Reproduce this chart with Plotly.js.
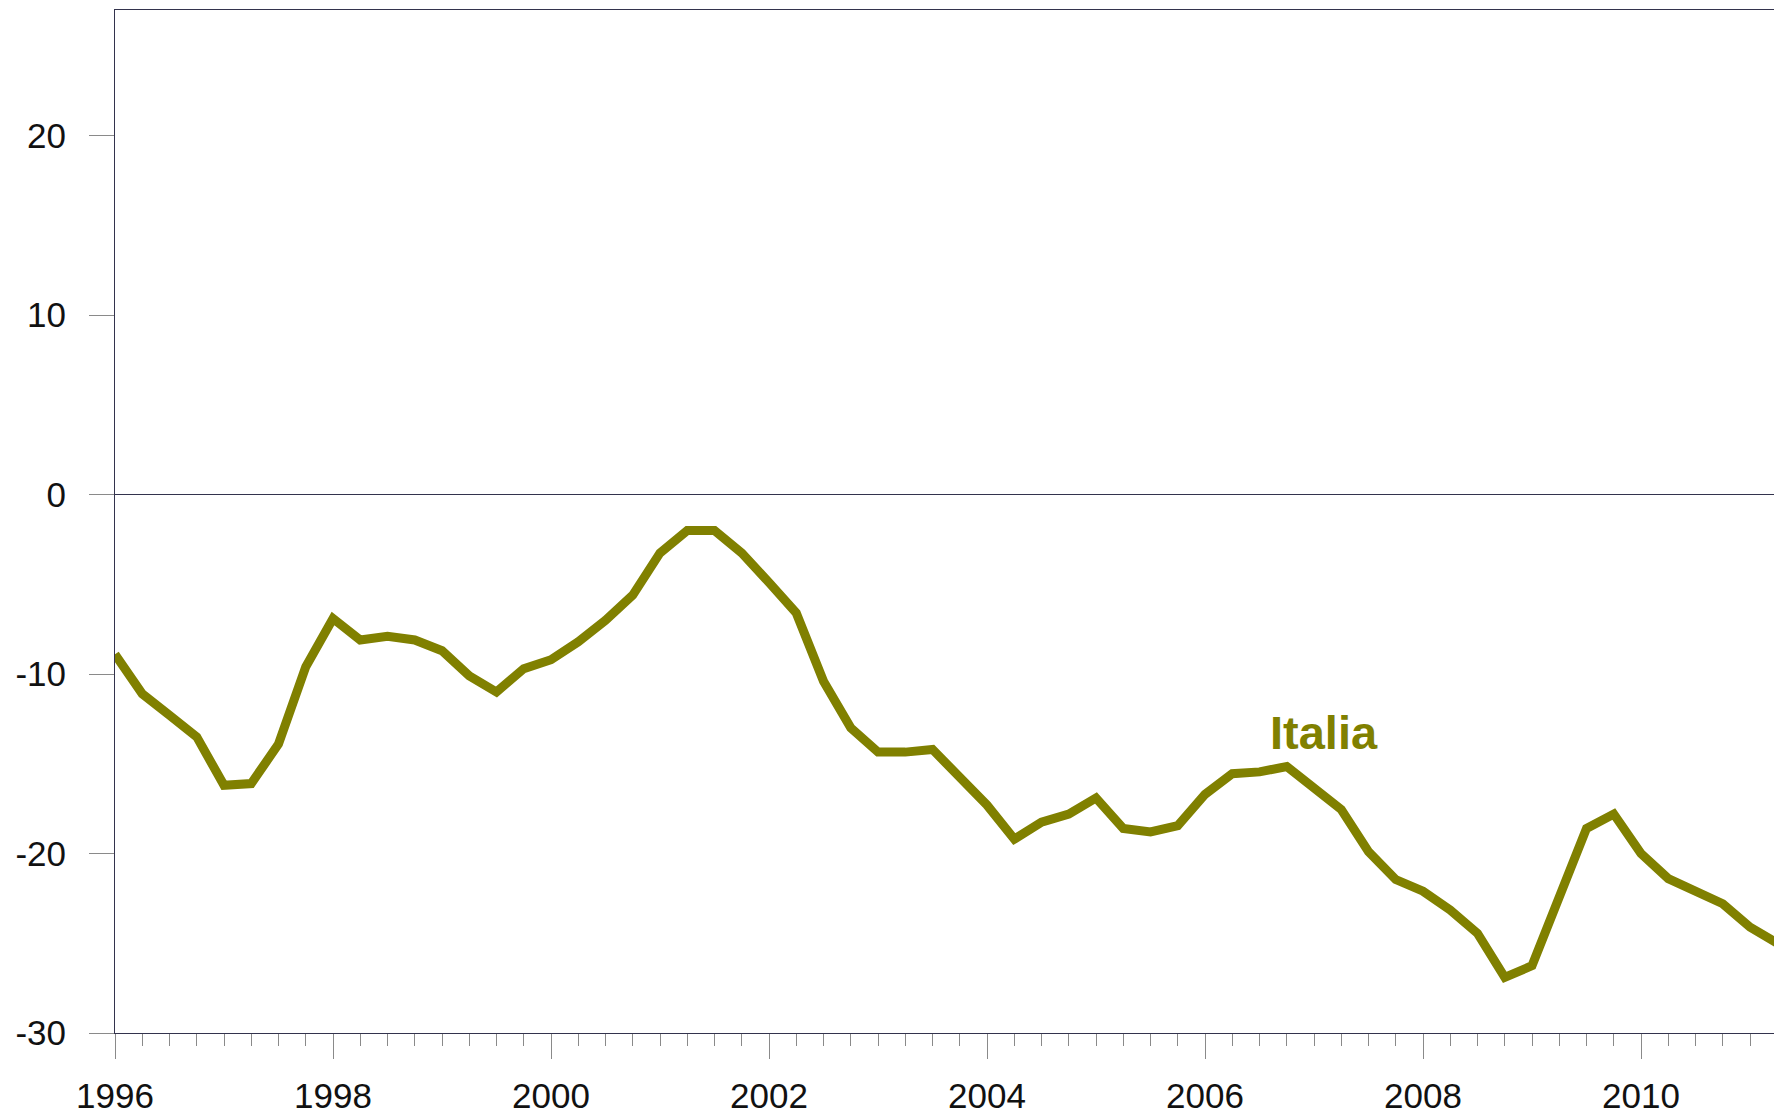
<!DOCTYPE html>
<html>
<head>
<meta charset="utf-8">
<script src="https://cdn.plot.ly/plotly-3.0.1.min.js"></script>
<style>
  html, body { margin: 0; padding: 0; background: #ffffff; }
  #chart { width: 1774px; height: 1116px; }
</style>
</head>
<body>
<div id="chart"></div>
<script>
// Quarterly observations (decimal year)
const quarters = [
  1996.00, 1996.25, 1996.50, 1996.75,
  1997.00, 1997.25, 1997.50, 1997.75,
  1998.00, 1998.25, 1998.50, 1998.75,
  1999.00, 1999.25, 1999.50, 1999.75,
  2000.00, 2000.25, 2000.50, 2000.75,
  2001.00, 2001.25, 2001.50, 2001.75,
  2002.00, 2002.25, 2002.50, 2002.75,
  2003.00, 2003.25, 2003.50, 2003.75,
  2004.00, 2004.25, 2004.50, 2004.75,
  2005.00, 2005.25, 2005.50, 2005.75,
  2006.00, 2006.25, 2006.50, 2006.75,
  2007.00, 2007.25, 2007.50, 2007.75,
  2008.00, 2008.25, 2008.50, 2008.75,
  2009.00, 2009.25, 2009.50, 2009.75,
  2010.00, 2010.25, 2010.50, 2010.75,
  2011.00, 2011.25
];

// Series: Italia
const italia = [
  -8.9, -11.1, -12.3, -13.5,
  -16.2, -16.1, -13.9, -9.6,
  -6.9, -8.1, -7.9, -8.1,
  -8.7, -10.1, -11.0, -9.7,
  -9.2, -8.2, -7.0, -5.6,
  -3.25, -2.0, -2.0, -3.25,
  -4.9, -6.6, -10.4, -13.0,
  -14.35, -14.35, -14.2, -15.75,
  -17.3, -19.2, -18.25, -17.8,
  -16.9, -18.6, -18.8, -18.45,
  -16.7, -15.55, -15.45, -15.15,
  -16.4, -17.55, -19.9, -21.45,
  -22.1, -23.15, -24.45, -26.9,
  -26.25, -22.45, -18.6, -17.8,
  -20.0, -21.4, -22.1, -22.8,
  -24.1, -25.0
];

const seriesName = "Italia";
const yTicks = [-30, -20, -10, 0, 10, 20];
const xTicks = [1996, 1998, 2000, 2002, 2004, 2006, 2008, 2010];

const olive = "#808000";
const axisColor = "#33334d";
const tickColor = "#8a8a8a";
const fontFamily = "Arial, 'Liberation Sans', Helvetica, sans-serif";

const trace = {
  x: quarters,
  y: italia,
  type: "scatter",
  mode: "lines",
  name: seriesName,
  line: { color: olive, width: 9 },
  hoverinfo: "skip"
};

const layout = {
  width: 1774,
  height: 1116,
  margin: { l: 115.3, r: 0, t: 10.3, b: 83.3, pad: 0 },
  paper_bgcolor: "#ffffff",
  plot_bgcolor: "#ffffff",
  showlegend: false,
  font: { family: fontFamily, size: 35, color: "#111111" },
  xaxis: {
    range: [1996, 2011.22],
    tickmode: "array",
    tickvals: xTicks,
    ticktext: xTicks.map(String),
    ticks: "outside",
    ticklen: 25,
    tickwidth: 1,
    tickcolor: tickColor,
    ticklabelstandoff: 7,
    tickfont: { family: fontFamily, size: 35, color: "#111111" },
    minor: { dtick: 0.25, tick0: 1996, ticks: "outside", ticklen: 12, tickwidth: 1, tickcolor: tickColor, showgrid: false },
    showgrid: false,
    zeroline: false,
    showline: true,
    linecolor: axisColor,
    linewidth: 1,
    mirror: true
  },
  yaxis: {
    range: [-30, 27],
    tickmode: "array",
    tickvals: yTicks,
    ticktext: yTicks.map(String),
    ticks: "outside",
    ticklen: 25,
    tickwidth: 1,
    tickcolor: tickColor,
    ticklabelstandoff: 16,
    tickfont: { family: fontFamily, size: 35, color: "#111111" },
    showgrid: false,
    zeroline: true,
    zerolinecolor: axisColor,
    zerolinewidth: 1,
    showline: true,
    linecolor: axisColor,
    linewidth: 1
  },
  annotations: [{
    x: 2007.093,
    y: -13.26,
    xref: "x",
    yref: "y",
    text: "<b>" + seriesName + "</b>",
    showarrow: false,
    xanchor: "center",
    yanchor: "middle",
    font: { family: fontFamily, size: 47, color: olive }
  }]
};

Plotly.newPlot("chart", [trace], layout, { displayModeBar: false, staticPlot: true });
</script>
</body>
</html>
